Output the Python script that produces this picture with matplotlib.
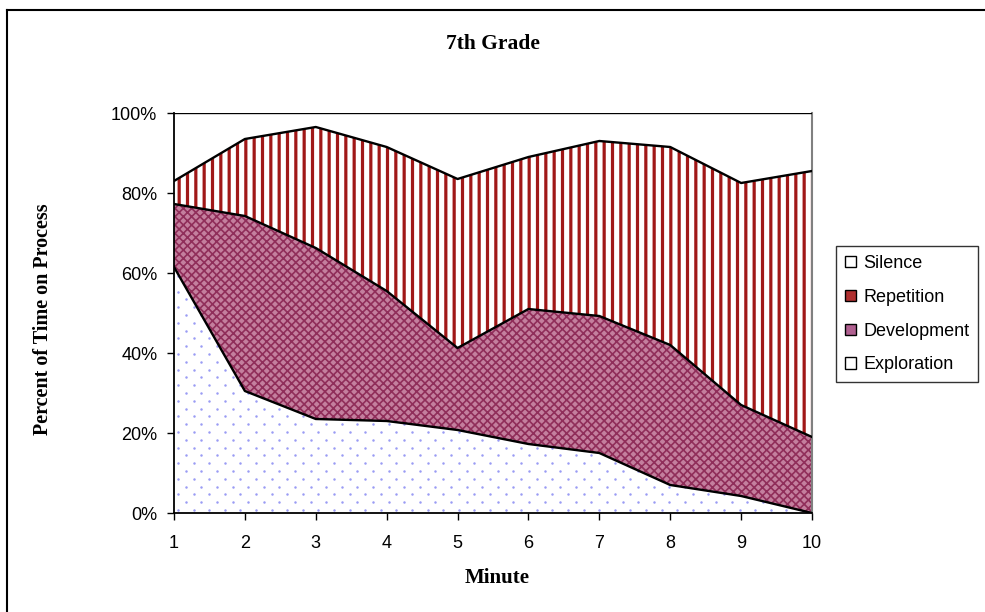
import numpy as np
import matplotlib
matplotlib.use("Agg")
import matplotlib.pyplot as plt
from matplotlib.patches import Patch
from matplotlib.lines import Line2D

# Share of each minute spent on each process (percent)
minutes = [1, 2, 3, 4, 5, 6, 7, 8, 9, 10]
exploration = [61.5, 30.5, 23.5, 23.0, 20.75, 17.25, 15.0, 7.0, 4.25, 0.0]
development = [15.75, 43.75, 42.75, 32.5, 20.5, 33.75, 34.25, 35.0, 22.75, 19.0]
repetition = [5.75, 19.25, 30.25, 36.0, 42.25, 38.0, 43.75, 49.5, 55.5, 66.5]
silence = [17.0, 6.5, 3.5, 8.5, 16.5, 11.0, 7.0, 8.5, 17.5, 14.5]

y_ticks = [0, 20, 40, 60, 80, 100]
y_tick_labels = ["0%", "20%", "40%", "60%", "80%", "100%"]

SANS = "Liberation Sans"
SERIF = "Liberation Serif"

fig = plt.figure(figsize=(9.85, 6.12), dpi=100)
W, H = 985, 612
ax = fig.add_axes([174 / W, 1 - 513 / H, 638 / W, 400 / H])

x = np.array(minutes, dtype=float)
layers = [np.array(exploration), np.array(development),
          np.array(repetition), np.array(silence)]
tops = np.cumsum(layers, axis=0)
bottoms = np.vstack([np.zeros_like(x), tops[:-1]])

styles = [
    dict(facecolor="white", hatch=None, hatchcolor="white", hlw=1.0),
    dict(facecolor="#c47f9e", hatch="xxxx", hatchcolor="#902e5a", hlw=1.2),
    dict(facecolor="white", hatch="||", hatchcolor="#a01818", hlw=2.3),
    dict(facecolor="white", hatch=None, hatchcolor="white", hlw=1.0),
]


def styled_fill(ax, lo, hi, st):
    coll = ax.fill_between(x, lo, hi, facecolor=st["facecolor"],
                           edgecolor=st["hatchcolor"], hatch=st["hatch"],
                           linewidth=0, zorder=1)
    if hasattr(coll, "set_hatch_linewidth"):
        coll.set_hatch_linewidth(st["hlw"])
    return coll


fills = []
for lo, hi, st in zip(bottoms, tops, styles):
    plt.rcParams["hatch.linewidth"] = st["hlw"]
    fills.append(styled_fill(ax, lo, hi, st))

# Sparse staggered dot texture for the exploration layer, clipped to its area
ax_w_px, ax_h_px = 638.0, 400.0
col_step, row_step = 15.6, 7.8
rows = np.arange(0, ax_h_px + row_step, row_step)
dot_x, dot_y = [], []
for i, ry in enumerate(rows):
    offs = 4.0 + (col_step / 2 if i % 2 else 0.0)
    cols = np.arange(offs, ax_w_px, col_step)
    dot_x.extend(cols / ax_w_px)
    dot_y.extend(np.full(cols.shape, (ry + 3.0) / ax_h_px))
dots = ax.scatter(dot_x, dot_y, s=3.2, color="#9a9cf4", linewidths=0,
                  transform=ax.transAxes, zorder=2)
dots.set_clip_path(fills[0].get_paths()[0], ax.transData)

# Boundary lines between stacked series
for hi in tops:
    ax.plot(x, hi, color="black", linewidth=1.7, zorder=3)

ax.set_xlim(1, 10)
ax.set_ylim(0, 100)
ax.set_xticks(minutes)
ax.set_xticklabels([str(m) for m in minutes], fontfamily=SANS, fontsize=13)
ax.set_yticks(y_ticks)
ax.set_yticklabels(y_tick_labels, fontfamily=SANS, fontsize=13)
ax.tick_params(axis="y", direction="out", length=5, width=1, pad=7, colors="black")
ax.tick_params(axis="x", direction="out", length=5, width=1, pad=11, colors="black")

ax.spines["top"].set_visible(False)
ax.spines["right"].set_color("#808080")
ax.spines["right"].set_linewidth(1.5)
ax.spines["left"].set_linewidth(1.3)
ax.spines["bottom"].set_linewidth(1.3)
ax.spines["right"].set_zorder(2)

fig.text(493 / W, 1 - 44 / H, "7th Grade", ha="center", va="center",
         fontfamily=SERIF, fontweight="bold", fontsize=15.5)
fig.text(43 / W, 1 - 319 / H, "Percent of Time on Process", rotation=90,
         ha="center", va="center", fontfamily=SERIF, fontweight="bold", fontsize=14.5)
fig.text(497 / W, 1 - 578 / H, "Minute", ha="center", va="center",
         fontfamily=SERIF, fontweight="bold", fontsize=15)

# Outer chart frame (top and left edges)
fig.add_artist(Line2D([7 / W, 7 / W], [0, 1 - 9.5 / H], transform=fig.transFigure,
                      color="black", linewidth=1.5))
fig.add_artist(Line2D([7 / W, 1], [1 - 9.5 / H, 1 - 9.5 / H], transform=fig.transFigure,
                      color="black", linewidth=1.5))

# Legend
names = ["Silence", "Repetition", "Development", "Exploration"]
swatch_colors = ["white", "#b03030", "#b06090", "white"]
handles = [Patch(facecolor=c, edgecolor="black", linewidth=1.0, label=n)
           for n, c in zip(names, swatch_colors)]
leg = fig.legend(handles=handles, loc="upper left",
                 bbox_to_anchor=(836 / W, 1 - 246 / H),
                 frameon=True, fancybox=False, edgecolor="black",
                 prop={"family": SANS, "size": 13},
                 handlelength=0.6, handleheight=0.6, handletextpad=0.4,
                 labelspacing=0.93, borderpad=0.5, borderaxespad=0)
leg.get_frame().set_linewidth(1.0)

fig.savefig("out.png", dpi=100)
